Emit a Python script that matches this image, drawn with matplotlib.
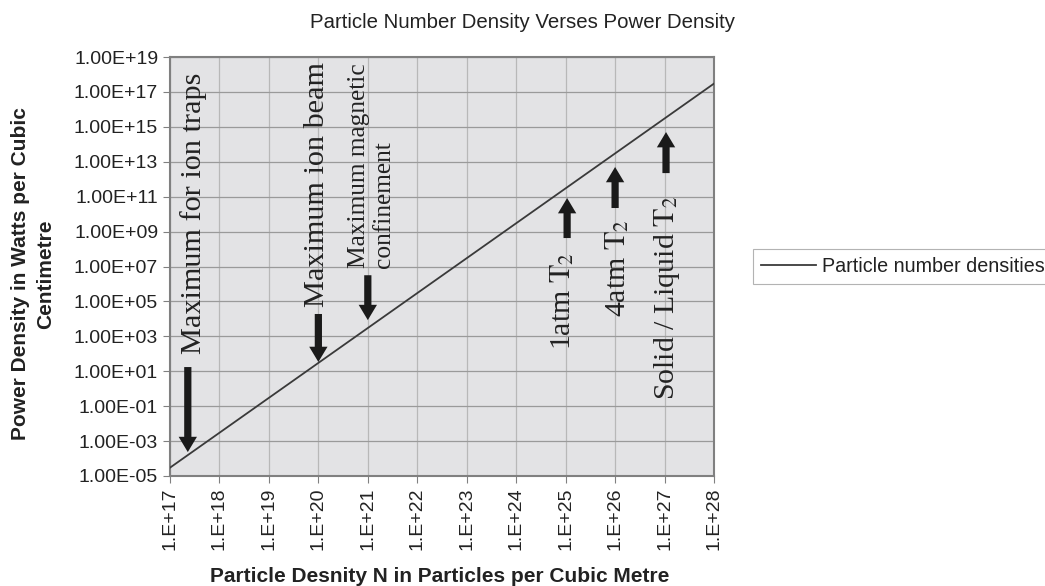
import numpy as np
import matplotlib
matplotlib.use("Agg")
import matplotlib.pyplot as plt
from matplotlib.ticker import FixedLocator, FuncFormatter, NullLocator

plt.rcParams['font.family'] = ['Liberation Sans', 'DejaVu Sans']
plt.rcParams['mathtext.fontset'] = 'stix'

# data: particle density (m^-3) vs power density (W/cm^3)
density = [1e17, 1e18, 1e19, 1e20, 1e21, 1e22, 1e23, 1e24, 1e25, 1e26, 1e27, 1e28]
power = [3e-5, 3e-3, 3e-1, 3e1, 3e3, 3e5, 3e7, 3e9, 3e11, 3e13, 3e15, 3e17]
series_name = "Particle number densities"

# annotations: label, x of text (log10), bottom of text (log10), size
labels = ["Maximum for ion traps", "Maximum ion beam",
          "Maximum magnetic\nconfinement",
          r"1atm $\mathrm{T}_2$", r"4atm $\mathrm{T}_2$",
          r"Solid / Liquid $\mathrm{T}_2$"]
label_x = [17.47, 19.97, 21.08, 24.93, 26.04, 27.05]
label_y = [2.0, 4.68, 6.91, 2.22, 4.1, -0.65]
label_size = [21.8, 21.8, 18.3, 21.5, 21.5, 21.5]

# arrows: x (log10), tail (log10), tip (log10)
arrow_x = [17.36, 20.0, 21.0, 25.03, 26.0, 27.03]
arrow_tail = [1.24, 4.28, 6.5, 8.63, 10.35, 12.35]
arrow_tip = [-3.63, 1.53, 3.93, 10.92, 12.7, 14.7]

fig = plt.figure(figsize=(10.45, 5.86), dpi=100)
ax = fig.add_axes([170/1045, 1-476/586, 544/1045, 419/586])
ax.set_facecolor('#e3e3e5')

ax.plot(density, power, color='#3a3a3a', lw=1.3, label=series_name, zorder=3)
ax.set_xscale('log')
ax.set_yscale('log')
ax.set_xlim(1e17, 1e28)
ax.set_ylim(1e-5, 1e19)

xt = [10.0**k for k in range(17, 29)]
yt = [10.0**k for k in range(-5, 20, 2)]
ax.xaxis.set_major_locator(FixedLocator(xt))
ax.yaxis.set_major_locator(FixedLocator(yt))
ax.xaxis.set_minor_locator(NullLocator())
ax.yaxis.set_minor_locator(NullLocator())
ax.xaxis.set_major_formatter(FuncFormatter(lambda v, p: "1.E+%d" % round(np.log10(v))))
ax.yaxis.set_major_formatter(FuncFormatter(lambda v, p: "%.2E" % v))
ax.tick_params(axis='x', labelrotation=90, labelsize=14, colors='#222222', length=5, color='#808080')
ax.tick_params(axis='y', labelsize=14, colors='#222222', length=5, color='#808080')

ax.grid(axis='y', color='#9a9a9a', lw=0.9, zorder=1)
ax.grid(axis='x', color='#b8b8b8', lw=0.9, zorder=1)
ax.set_axisbelow(True)
for s in ax.spines.values():
    s.set_color('#808080')
    s.set_linewidth(1.5)

for t, x, y, s in zip(labels, label_x, label_y, label_size):
    ax.text(10**x, 10**y, t, rotation=90, ha='center', va='bottom',
            fontsize=s, family=['Liberation Serif', 'DejaVu Serif'],
            color='#222222', multialignment='left', zorder=4)

for x, a, b in zip(arrow_x, arrow_tail, arrow_tip):
    ax.annotate('', xy=(10**x, 10**b), xytext=(10**x, 10**a),
                arrowprops=dict(arrowstyle='simple,head_length=0.55,head_width=0.66,tail_width=0.26',
                                fc='#1a1a1a', ec='none', shrinkA=0, shrinkB=0,
                                mutation_scale=20), zorder=5)

fig.text(522/1045, 1-22/586, "Particle Number Density Verses Power Density",
         ha='center', va='center', fontsize=14.7, color='#222222')
fig.text(440/1045, 1-576/586, "Particle Desnity N in Particles per Cubic Metre",
         ha='center', va='center', fontsize=15, fontweight='bold', color='#222222')
fig.text(33/1045, 1-274/586, "Power Density in Watts per Cubic\nCentimetre",
         ha='center', va='center', rotation=90, fontsize=15, fontweight='bold',
         color='#222222', multialignment='center', linespacing=1.35)

leg = fig.legend(loc='center left', bbox_to_anchor=(753/1045, 1-266.5/586),
                 fontsize=14.2, frameon=True, fancybox=False, handlelength=2.8,
                 handletextpad=0.3, borderpad=0.4, borderaxespad=0)
leg.get_frame().set_edgecolor('#a0a0a0')
leg.get_frame().set_linewidth(0.8)
for t in leg.get_texts():
    t.set_color('#222222')

fig.savefig("out.png", dpi=100)
